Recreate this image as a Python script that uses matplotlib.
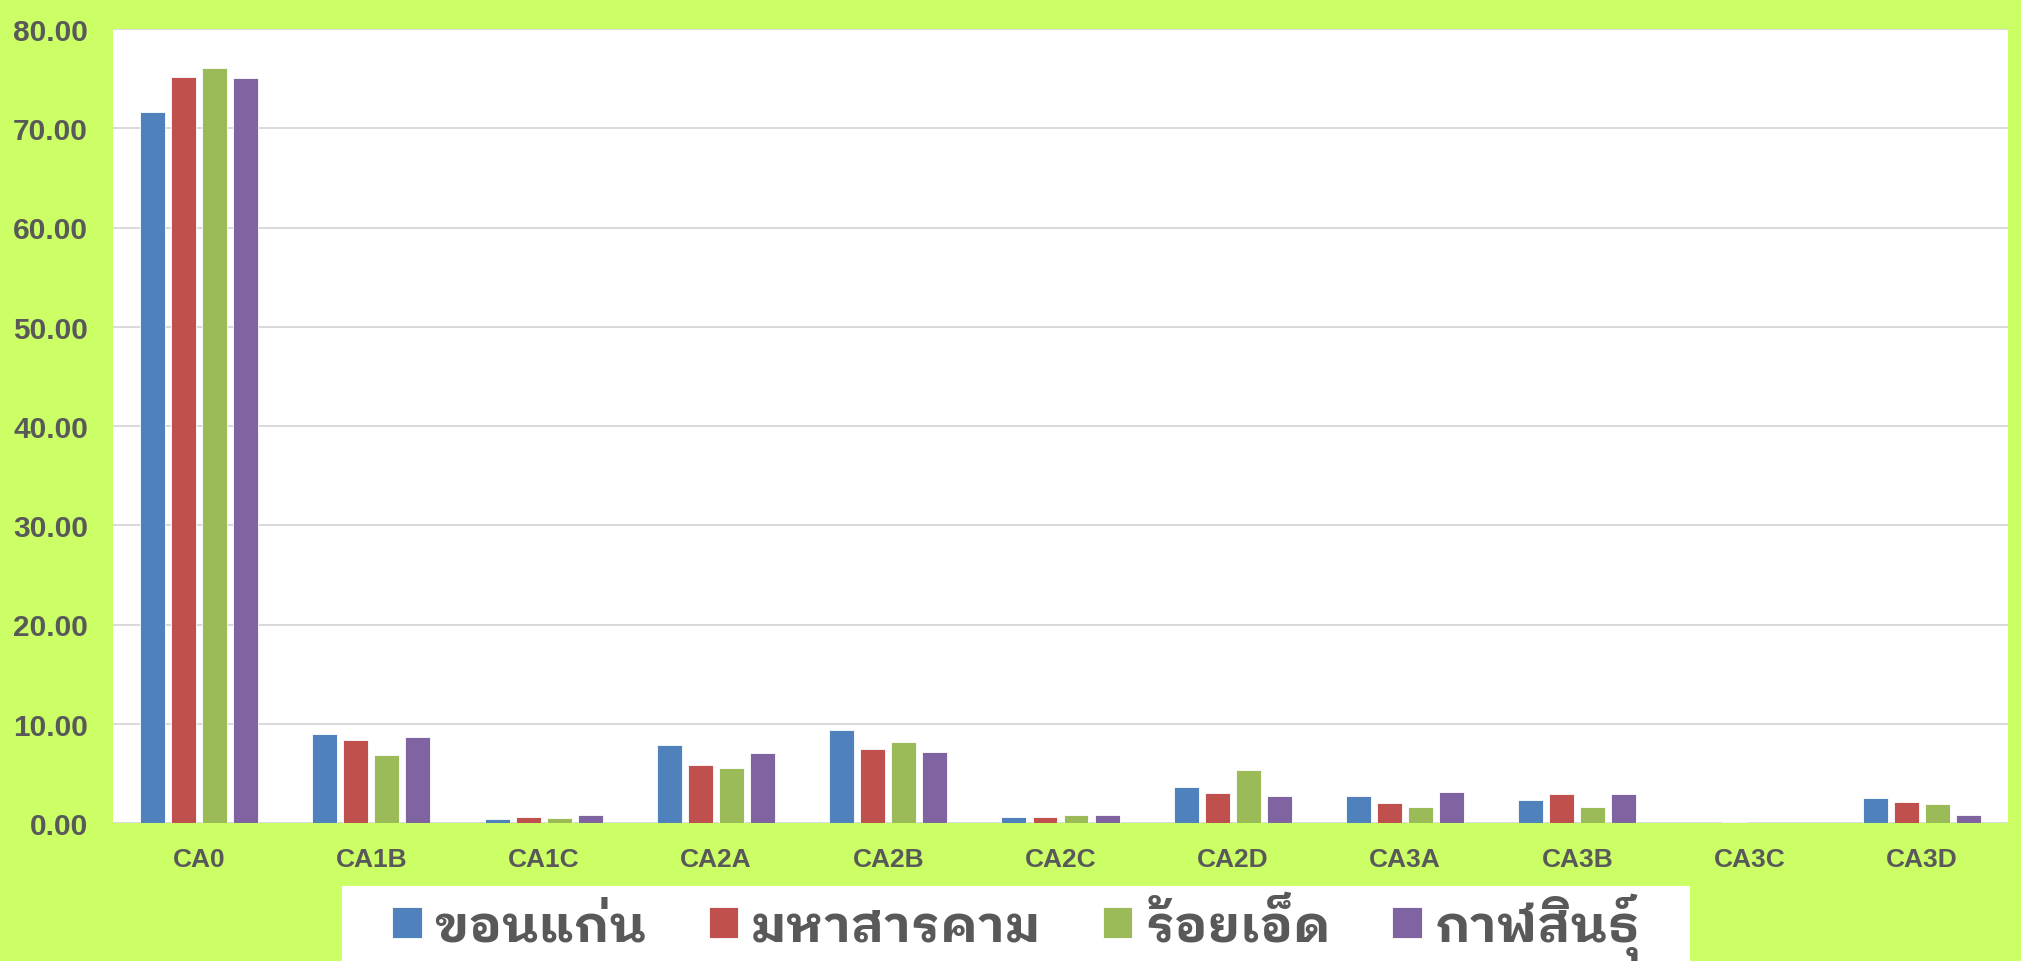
import os
import matplotlib
matplotlib.use("Agg")
import matplotlib.pyplot as plt
import numpy as np
from matplotlib import font_manager as fm
from matplotlib.ft2font import FT2Font
from matplotlib.patches import Rectangle

categories = ["CA0", "CA1B", "CA1C", "CA2A", "CA2B", "CA2C", "CA2D", "CA3A", "CA3B", "CA3C", "CA3D"]
series_names = ["ขอนแก่น", "มหาสารคาม", "ร้อยเอ็ด", "กาฬสินธุ์"]
khon_kaen     = [71.67, 8.96, 0.44, 7.84, 9.39, 0.57, 3.65, 2.77, 2.33, 0.05, 2.47]
maha_sarakham = [75.20, 8.35, 0.57, 5.81, 7.43, 0.64, 3.07, 2.06, 2.94, 0.13, 2.16]
roi_et        = [76.10, 6.83, 0.54, 5.58, 8.14, 0.81, 5.34, 1.62, 1.62, 0.03, 1.93]
kalasin       = [75.05, 8.62, 0.77, 7.03, 7.13, 0.84, 2.77, 3.14, 2.97, 0.04, 0.81]
y_ticks = [0, 10, 20, 30, 40, 50, 60, 70, 80]
y_tick_labels = ["%.2f" % v for v in y_ticks]

colors = ["#4F81BD", "#C0504D", "#9BBB59", "#8064A2"]
BG = "#CCFF66"
TXT = "#595959"

# --- font selection ---
LEG_SIZE = 37
def find_thai(name):
    for f in fm.fontManager.ttflist:
        if f.name == name and f.style == "normal" and f.weight in (700, "bold"):
            return f.fname
    return None

thai_path = None
for nm in ["IBM Plex Sans Thai Looped", "Sarabun", "Bai Jamjuree", "Loma"]:
    thai_path = find_thai(nm)
    if thai_path:
        break
if thai_path is None:
    for f in fm.fontManager.ttflist:
        try:
            if FT2Font(f.fname).get_char_index(0x0E01):
                thai_path = f.fname
                break
        except Exception:
            pass
if thai_path:
    thai_prop = fm.FontProperties(fname=thai_path, size=LEG_SIZE)
else:
    thai_prop = fm.FontProperties(family="DejaVu Sans", size=LEG_SIZE, weight="bold")

names = {f.name for f in fm.fontManager.ttflist}
tick_family = "Liberation Sans" if "Liberation Sans" in names else "DejaVu Sans"

W, H = 2021, 962
fig = plt.figure(figsize=(W / 100, H / 100), dpi=100, facecolor=BG)
left, right, top, bottom = 113, 2008, 30, 824
ax = fig.add_axes([left / W, 1 - bottom / H, (right - left) / W, (bottom - top) / H])
ax.set_facecolor("white")

series = [khon_kaen, maha_sarakham, roi_et, kalasin]
x = np.arange(len(categories))
bw = 0.145
pitch = 0.18
for i, (vals, c, nm) in enumerate(zip(series, colors, series_names)):
    off = (i - 1.5) * pitch
    ax.bar(x + off, vals, width=bw, color=c, edgecolor="white", linewidth=0.6, label=nm, zorder=3)

ax.set_xlim(-0.5, len(categories) - 0.5)
ax.set_ylim(0, 80)
ax.set_yticks(y_ticks)
ax.set_yticklabels(y_tick_labels)
ax.set_xticks(x)
ax.set_xticklabels(categories)
for s in ax.spines.values():
    s.set_visible(False)
ax.grid(axis="y", color="#D9D9D9", linewidth=1.4, zorder=0)
ax.set_axisbelow(True)
ax.tick_params(axis="both", length=0)
ax.tick_params(axis="y", pad=18)
ax.tick_params(axis="x", pad=17)
for lab in ax.get_yticklabels():
    lab.set_fontfamily(tick_family)
    lab.set_fontweight("bold")
    lab.set_fontsize(21.5)
    lab.set_color(TXT)
for lab in ax.get_xticklabels():
    lab.set_fontfamily(tick_family)
    lab.set_fontweight("bold")
    lab.set_fontsize(19)
    lab.set_color(TXT)

# legend box
fig.patches.append(Rectangle((342 / W, 0), (1690 - 342) / W, (962 - 887) / H,
                             transform=fig.transFigure, facecolor="white", edgecolor="none", zorder=0))
handles, labels = ax.get_legend_handles_labels()
leg = fig.legend(handles, labels, loc="center", bbox_to_anchor=(1016 / W, 1 - 927 / H),
                 ncol=4, frameon=False, prop=thai_prop, handlelength=0.57, handleheight=0.57,
                 handletextpad=0.25, columnspacing=1.2, borderpad=0)
for t in leg.get_texts():
    t.set_color(TXT)

fig.savefig("out.png", dpi=100, facecolor=BG)
